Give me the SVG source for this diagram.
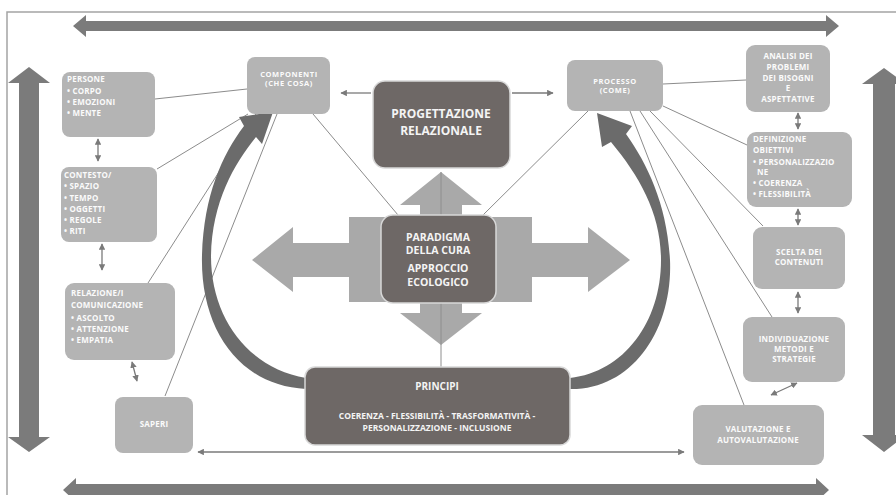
<svg xmlns="http://www.w3.org/2000/svg" width="896" height="495" viewBox="0 0 896 495">
<defs>
<style>
.lb{fill:#b4b4b4}
.db{fill:#6e6866;stroke:#d8d8d8;stroke-width:1.5}
.t{font-family:"Open Sans","Noto Sans",sans-serif;font-weight:700;fill:#fbfbfb;font-size:8px;letter-spacing:0.2px}
.tc{text-anchor:middle}
.ts{font-size:7.5px;letter-spacing:0.6px}
.big{font-family:"Open Sans","Noto Sans",sans-serif;font-weight:700;fill:#f4f4f4;text-anchor:middle}
.cn{stroke:#8c8c8c;stroke-width:1;fill:none}
.sa{stroke:#7a7a7a;stroke-width:1.3;fill:none}
.thick{fill:#7b7b7b}
.cross{fill:#a9a9a9}
.arc{fill:#6b6b6b}
</style>
<marker id="ah" viewBox="0 0 10 10" refX="9" refY="5" markerWidth="5" markerHeight="5" orient="auto-start-reverse">
<path d="M0,0 L10,5 L0,10 z" fill="#7a7a7a"/>
</marker>
</defs>
<rect width="896" height="495" fill="#ffffff"/>
<path d="M7,495 L7,12 L896,12" fill="none" stroke="#a4a4a4" stroke-width="1.5"/>

<g id="frame-arrows">
<polygon class="thick" points="73,26 86,15 86,21 826,21 826,15 839,26 826,37 826,31 86,31 86,37"/>
<polygon class="thick" points="63,490 76,478 76,484 816,484 816,478 829,490 816,502 816,496 76,496 76,502"/>
<polygon class="thick" points="29,67 50,83 39,83 39,437 50,437 29,452 8,437 19,437 19,83 8,83"/>
<polygon class="thick" points="884,68 906,84 895,84 895,435 906,435 884,452 862,435 873,435 873,84 862,84"/>
</g>

<g id="connectors">
<line class="cn" x1="155" y1="99" x2="247" y2="89"/>
<line class="cn" x1="157" y1="169" x2="248" y2="114"/>
<line class="cn" x1="148" y1="283" x2="256" y2="114"/>
<line class="cn" x1="165" y1="396" x2="277" y2="114"/>
<line class="cn" x1="313" y1="114" x2="398" y2="215"/>
<line class="cn" x1="663" y1="84" x2="746" y2="80"/>
<line class="cn" x1="663" y1="106" x2="747" y2="145"/>
<line class="cn" x1="650" y1="111" x2="763" y2="226"/>
<line class="cn" x1="640" y1="111" x2="772" y2="317"/>
<line class="cn" x1="630" y1="111" x2="744" y2="405"/>
<line class="cn" x1="588" y1="111" x2="483" y2="215"/>
<line class="sa" x1="98" y1="139" x2="98" y2="161" marker-start="url(#ah)" marker-end="url(#ah)"/>
<line class="sa" x1="102" y1="244" x2="102" y2="270" marker-start="url(#ah)" marker-end="url(#ah)"/>
<line class="sa" x1="132" y1="362" x2="137" y2="381" marker-start="url(#ah)" marker-end="url(#ah)"/>
<line class="sa" x1="798" y1="113" x2="798" y2="129" marker-start="url(#ah)" marker-end="url(#ah)"/>
<line class="sa" x1="798" y1="209" x2="798" y2="225" marker-start="url(#ah)" marker-end="url(#ah)"/>
<line class="sa" x1="798" y1="292" x2="798" y2="313" marker-start="url(#ah)" marker-end="url(#ah)"/>
<line class="sa" x1="797" y1="383" x2="771" y2="395" marker-start="url(#ah)" marker-end="url(#ah)"/>
<line class="sa" x1="371" y1="93" x2="341" y2="93" marker-end="url(#ah)"/>
<line class="sa" x1="512" y1="93" x2="553" y2="93" marker-end="url(#ah)"/>
<line class="sa" x1="198" y1="452" x2="684" y2="452" marker-start="url(#ah)" marker-end="url(#ah)"/>
</g>

<g id="cross">
<polygon class="cross" points="420,215 420,205 400,205 441,172 482,205 462,205 462,215"/>
<polygon class="cross" points="420,303 420,313 400,313 441,345 482,313 462,313 462,303"/>
<rect class="cross" x="349" y="217" width="183" height="85"/>
<polygon class="cross" points="349,243 293,243 293,227 252,260 293,292 293,277 349,277"/>
<polygon class="cross" points="532,243 588,243 588,227 630,260 588,292 588,277 532,277"/>
<line x1="441" y1="172" x2="441" y2="368" stroke="#8e8e8e" stroke-width="1"/>
</g>

<g id="arc-left">
<path class="arc" d="M306,389 C240,386 200,330 202,255 C204,195 222,155 244,126 L239,117 L273,112 L262,144 L256,137 C234,164 212,202 211,256 C211,318 248,368 306,378 Z"/>
</g>
<g id="arc-right">
<path class="arc" d="M570,389 C632,390 673,330 670,260 C667,205 648,165 626,134 L632,126 L597,113 L602,147 L611,142 C640,177 661,214 661,260 C661,322 624,372 570,378 Z"/>
</g>

<g id="persone">
<rect class="lb" x="62" y="72" width="93" height="65" rx="8"/>
<text class="t" x="67" y="82">PERSONE</text>
<text class="t" x="67" y="94">• CORPO</text>
<text class="t" x="67" y="105">• EMOZIONI</text>
<text class="t" x="67" y="116">• MENTE</text>
</g>
<g id="contesto">
<rect class="lb" x="61" y="167" width="96" height="75" rx="8"/>
<text class="t" x="64" y="178">CONTESTO/</text>
<text class="t" x="64" y="189">• SPAZIO</text>
<text class="t" x="64" y="201">• TEMPO</text>
<text class="t" x="64" y="212">• OGGETTI</text>
<text class="t" x="64" y="223">• REGOLE</text>
<text class="t" x="64" y="234">• RITI</text>
</g>
<g id="relazione">
<rect class="lb" x="65" y="283" width="110" height="77" rx="9"/>
<text class="t" x="71" y="296">RELAZIONE/I</text>
<text class="t" x="71" y="308">COMUNICAZIONE</text>
<text class="t" x="71" y="321">• ASCOLTO</text>
<text class="t" x="71" y="332">• ATTENZIONE</text>
<text class="t" x="71" y="343">• EMPATIA</text>
</g>
<g id="saperi">
<rect class="lb" x="115" y="397" width="78" height="56" rx="8"/>
<text class="t tc" x="154" y="427">SAPERI</text>
</g>
<g id="componenti">
<rect class="lb" x="247" y="57" width="83" height="57" rx="8"/>
<text class="t tc ts" x="289" y="77">COMPONENTI</text>
<text class="t tc ts" x="289" y="86">(CHE COSA)</text>
</g>
<g id="processo">
<rect class="lb" x="567" y="60" width="96" height="51" rx="8"/>
<text class="t tc ts" x="615" y="84">PROCESSO</text>
<text class="t tc ts" x="615" y="93">(COME)</text>
</g>
<g id="progettazione">
<rect class="db" x="373" y="81" width="137" height="87" rx="12"/>
<text class="big" x="441" y="118" font-size="12">PROGETTAZIONE</text>
<text class="big" x="441" y="135" font-size="12">RELAZIONALE</text>
</g>
<g id="paradigma">
<rect class="db" x="381" y="215" width="115" height="88" rx="12"/>
<text class="big" x="438" y="241" font-size="10.5">PARADIGMA</text>
<text class="big" x="438" y="254" font-size="10.5">DELLA CURA</text>
<text class="big" x="438" y="272" font-size="10.5">APPROCCIO</text>
<text class="big" x="438" y="286" font-size="10.5">ECOLOGICO</text>
</g>
<g id="principi">
<rect class="db" x="305" y="367" width="265" height="78" rx="10"/>
<text class="big" x="437" y="390" font-size="10">PRINCIPI</text>
<text class="big" x="437" y="419" font-size="8.5">COERENZA - FLESSIBILITÀ - TRASFORMATIVITÀ   -</text>
<text class="big" x="437" y="431" font-size="8.5">PERSONALIZZAZIONE - INCLUSIONE</text>
</g>
<g id="analisi">
<rect class="lb" x="746" y="45" width="84" height="67" rx="9"/>
<text class="t tc" x="788" y="59" font-size="8.5">ANALISI DEI</text>
<text class="t tc" x="788" y="70" font-size="8.5">PROBLEMI</text>
<text class="t tc" x="788" y="81" font-size="8.5">DEI  BISOGNI</text>
<text class="t tc" x="788" y="91" font-size="8.5">E</text>
<text class="t tc" x="788" y="102" font-size="8.5">ASPETTATIVE</text>
</g>
<g id="definizione">
<rect class="lb" x="747" y="132" width="105" height="75" rx="9"/>
<text class="t" x="753" y="142">DEFINIZIONE</text>
<text class="t" x="753" y="153">OBIETTIVI</text>
<text class="t" x="753" y="165">• PERSONALIZZAZIO</text>
<text class="t" x="757" y="175">NE</text>
<text class="t" x="753" y="186">• COERENZA</text>
<text class="t" x="753" y="197">• FLESSIBILITÀ</text>
</g>
<g id="scelta">
<rect class="lb" x="753" y="227" width="92" height="62" rx="9"/>
<text class="t tc" x="799" y="255">SCELTA  DEI</text>
<text class="t tc" x="799" y="265">CONTENUTI</text>
</g>
<g id="individuazione">
<rect class="lb" x="743" y="317" width="102" height="65" rx="9"/>
<text class="t tc" x="794" y="342">INDIVIDUAZIONE</text>
<text class="t tc" x="794" y="352">METODI E</text>
<text class="t tc" x="794" y="362">STRATEGIE</text>
</g>
<g id="valutazione">
<rect class="lb" x="693" y="405" width="131" height="60" rx="9"/>
<text class="t tc" x="758" y="432">VALUTAZIONE E</text>
<text class="t tc" x="758" y="443">AUTOVALUTAZIONE</text>
</g>
</svg>
